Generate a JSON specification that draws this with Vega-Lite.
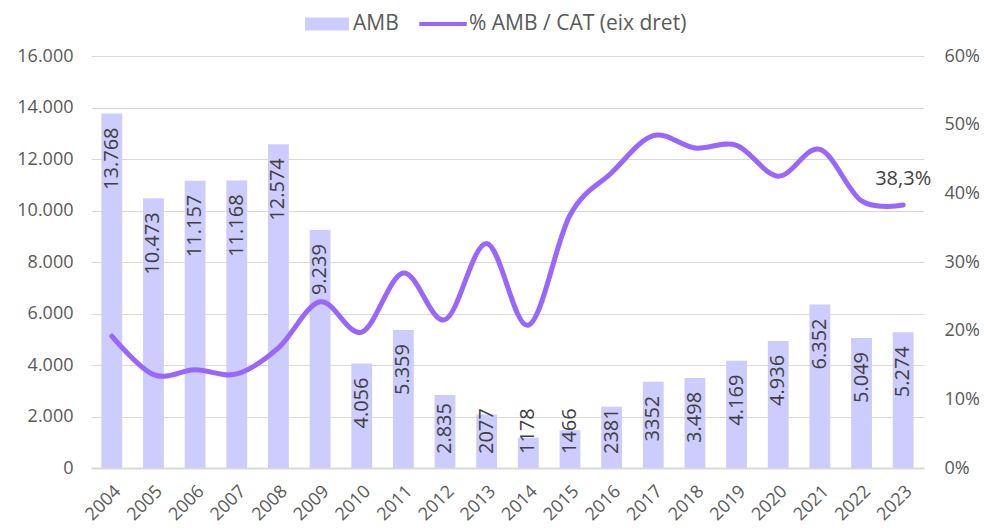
{
  "$schema": "https://vega.github.io/schema/vega-lite/v6.json",
  "autosize": {"type": "none"},
  "width": 833,
  "height": 412,
  "padding": {"left": 91, "top": 56, "right": 60, "bottom": 60},
  "background": "white",
  "config": {
    "view": {"stroke": null},
    "font": "Open Sans",
    "axis": {"labelFont": "Open Sans", "labelColor": "#595959", "labelFontSize": 18, "ticks": false, "titleColor": "#595959", "labelOverlap": false},
    "legend": {"labelFont": "Open Sans"}
  },
  "data": {
    "values": [
      {"year": "2004", "AMB": 13768, "lbl": "13.768", "pct": 0.192},
      {"year": "2005", "AMB": 10473, "lbl": "10.473", "pct": 0.136},
      {"year": "2006", "AMB": 11157, "lbl": "11.157", "pct": 0.143},
      {"year": "2007", "AMB": 11168, "lbl": "11.168", "pct": 0.137},
      {"year": "2008", "AMB": 12574, "lbl": "12.574", "pct": 0.175},
      {"year": "2009", "AMB": 9239, "lbl": "9.239", "pct": 0.242},
      {"year": "2010", "AMB": 4056, "lbl": "4.056", "pct": 0.198},
      {"year": "2011", "AMB": 5359, "lbl": "5.359", "pct": 0.284},
      {"year": "2012", "AMB": 2835, "lbl": "2.835", "pct": 0.216},
      {"year": "2013", "AMB": 2077, "lbl": "2077", "pct": 0.327},
      {"year": "2014", "AMB": 1178, "lbl": "1178", "pct": 0.208},
      {"year": "2015", "AMB": 1466, "lbl": "1466", "pct": 0.368},
      {"year": "2016", "AMB": 2381, "lbl": "2381", "pct": 0.43},
      {"year": "2017", "AMB": 3352, "lbl": "3352", "pct": 0.484},
      {"year": "2018", "AMB": 3498, "lbl": "3.498", "pct": 0.466},
      {"year": "2019", "AMB": 4169, "lbl": "4.169", "pct": 0.47},
      {"year": "2020", "AMB": 4936, "lbl": "4.936", "pct": 0.425},
      {"year": "2021", "AMB": 6352, "lbl": "6.352", "pct": 0.464},
      {"year": "2022", "AMB": 5049, "lbl": "5.049", "pct": 0.389},
      {"year": "2023", "AMB": 5274, "lbl": "5.274", "pct": 0.383, "pctLbl": "38,3%"}
    ]
  },
  "encoding": {
    "x": {
      "field": "year", "type": "ordinal",
      "scale": {"type": "band", "paddingInner": 0.5, "paddingOuter": 0.25},
      "axis": {"title": null, "labelAngle": -45, "labelPadding": 14, "domainColor": "#d9d9d9", "domainWidth": 2, "grid": false}
    }
  },
  "layer": [
    {
      "encoding": {
        "y": {
          "field": "AMB", "type": "quantitative",
          "scale": {"domain": [0, 16000], "nice": false},
          "axis": {"title": null, "values": [0, 2000, 4000, 6000, 8000, 10000, 12000, 14000, 16000], "labelExpr": "replace(format(datum.value, ','), ',', '.')", "domain": false, "gridColor": "#d9d9d9", "gridWidth": 1.2, "labelPadding": 18, "labelOverlap": false}
        }
      },
      "layer": [
        {
          "mark": {"type": "bar", "color": "#ccccff"},
          "encoding": {
            "color": {
              "datum": "AMB",
              "scale": {"domain": ["AMB", "% AMB / CAT (eix dret)"], "range": ["#ccccff", "#9966ff"]},
              "legend": {
                "title": null, "orient": "none", "direction": "horizontal",
                "legendX": 214, "legendY": -54, "padding": 0,
                "columnPadding": 20, "labelFontSize": 21, "labelColor": "#595959",
                "labelLimit": 0,
                "labelOffset": 4, "symbolSize": 1936,
                "symbolStrokeWidth": 0, "symbolOpacity": 1,
                "encode": {
                  "symbols": {
                    "update": {
                      "shape": {"signal": "datum.value === 'AMB' ? 'M-1,-0.3H1V0.3H-1Z' : 'M-1.08,-0.09H1.08V0.09H-1.08Z'"},
                      "fill": {"signal": "datum.value === 'AMB' ? '#ccccff' : '#9966ff'"},
                      "strokeWidth": {"value": 0},
                      "opacity": {"value": 1}
                    }
                  }
                }
              }
            }
          }
        },
        {
          "transform": [{"filter": "datum.AMB > 3000"}],
          "mark": {"type": "text", "angle": -90, "align": "right", "baseline": "middle", "dx": -14, "fontSize": 20, "color": "#404040", "font": "Open Sans"},
          "encoding": {"text": {"field": "lbl"}}
        },
        {
          "transform": [{"filter": "datum.AMB <= 3000"}],
          "mark": {"type": "text", "angle": -90, "align": "left", "baseline": "middle", "dx": 14, "fontSize": 20, "color": "#404040", "font": "Open Sans"},
          "encoding": {
            "y": {"datum": 0, "type": "quantitative"},
            "text": {"field": "lbl"}
          }
        }
      ]
    },
    {
      "encoding": {
        "y": {
          "field": "pct", "type": "quantitative",
          "scale": {"domain": [0, 0.6], "nice": false},
          "axis": {"title": null, "orient": "right", "values": [0, 0.1, 0.2, 0.3, 0.4, 0.5, 0.6], "labelExpr": "format(datum.value, '.0%')", "grid": false, "domain": false, "labelPadding": 20, "labelOverlap": false}
        }
      },
      "layer": [
        {
          "mark": {"type": "line", "interpolate": "cardinal", "strokeWidth": 5, "strokeCap": "round", "strokeJoin": "round"},
          "encoding": {"color": {"datum": "% AMB / CAT (eix dret)"}}
        },
        {
          "transform": [{"filter": "datum.pctLbl != null"}],
          "mark": {"type": "text", "align": "center", "baseline": "middle", "dy": -26, "fontSize": 20, "color": "#404040", "font": "Open Sans"},
          "encoding": {"text": {"field": "pctLbl"}}
        }
      ]
    }
  ],
  "resolve": {"scale": {"y": "independent"}}
}
